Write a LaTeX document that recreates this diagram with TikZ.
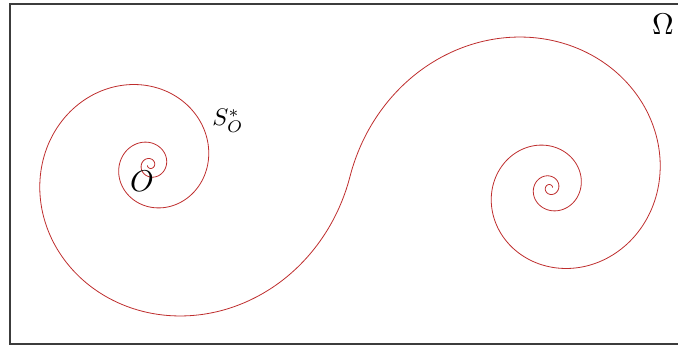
\documentclass[tikz,border=0pt]{standalone}
\definecolor{spiralred}{RGB}{190,45,45}
\definecolor{framegray}{RGB}{60,60,60}
\begin{document}
\begin{tikzpicture}[x=1pt,y=-1pt,
  spiralline/.style={draw=spiralred, line width=0.8pt},
  framestyle/.style={draw=framegray, line width=1.4pt},
  lbl/.style={inner sep=0pt}]
\useasboundingbox (0,0) rectangle (678,345);
\draw[framestyle] (678,4) -- (10,4) -- (10,344) -- (678,344);
% left spiral: from junction M=(350,176.5) inward to centre (150,165)
\draw[spiralline] plot[domain=0:1250, samples=600, smooth, variable=\t]
  ({150+200.33*exp(-0.0034907*\t)*cos(3.29+\t)},
   {165+200.33*exp(-0.0034907*\t)*sin(3.29+\t)});
% right spiral: point-symmetric about M, centre (550,188)
\draw[spiralline] plot[domain=0:1250, samples=600, smooth, variable=\t]
  ({550-200.33*exp(-0.0034907*\t)*cos(3.29+\t)},
   {188-200.33*exp(-0.0034907*\t)*sin(3.29+\t)});
\node[lbl] (omega) at (663,24) {\scalebox{3.0}{$\Omega$}};
\node[lbl] (s) at (228,121) {\scalebox{2.4}{$S^{*}_{O}$}};
\node[lbl] (o) at (142,181) {\scalebox{3.0}{$O$}};
\end{tikzpicture}
\end{document}
